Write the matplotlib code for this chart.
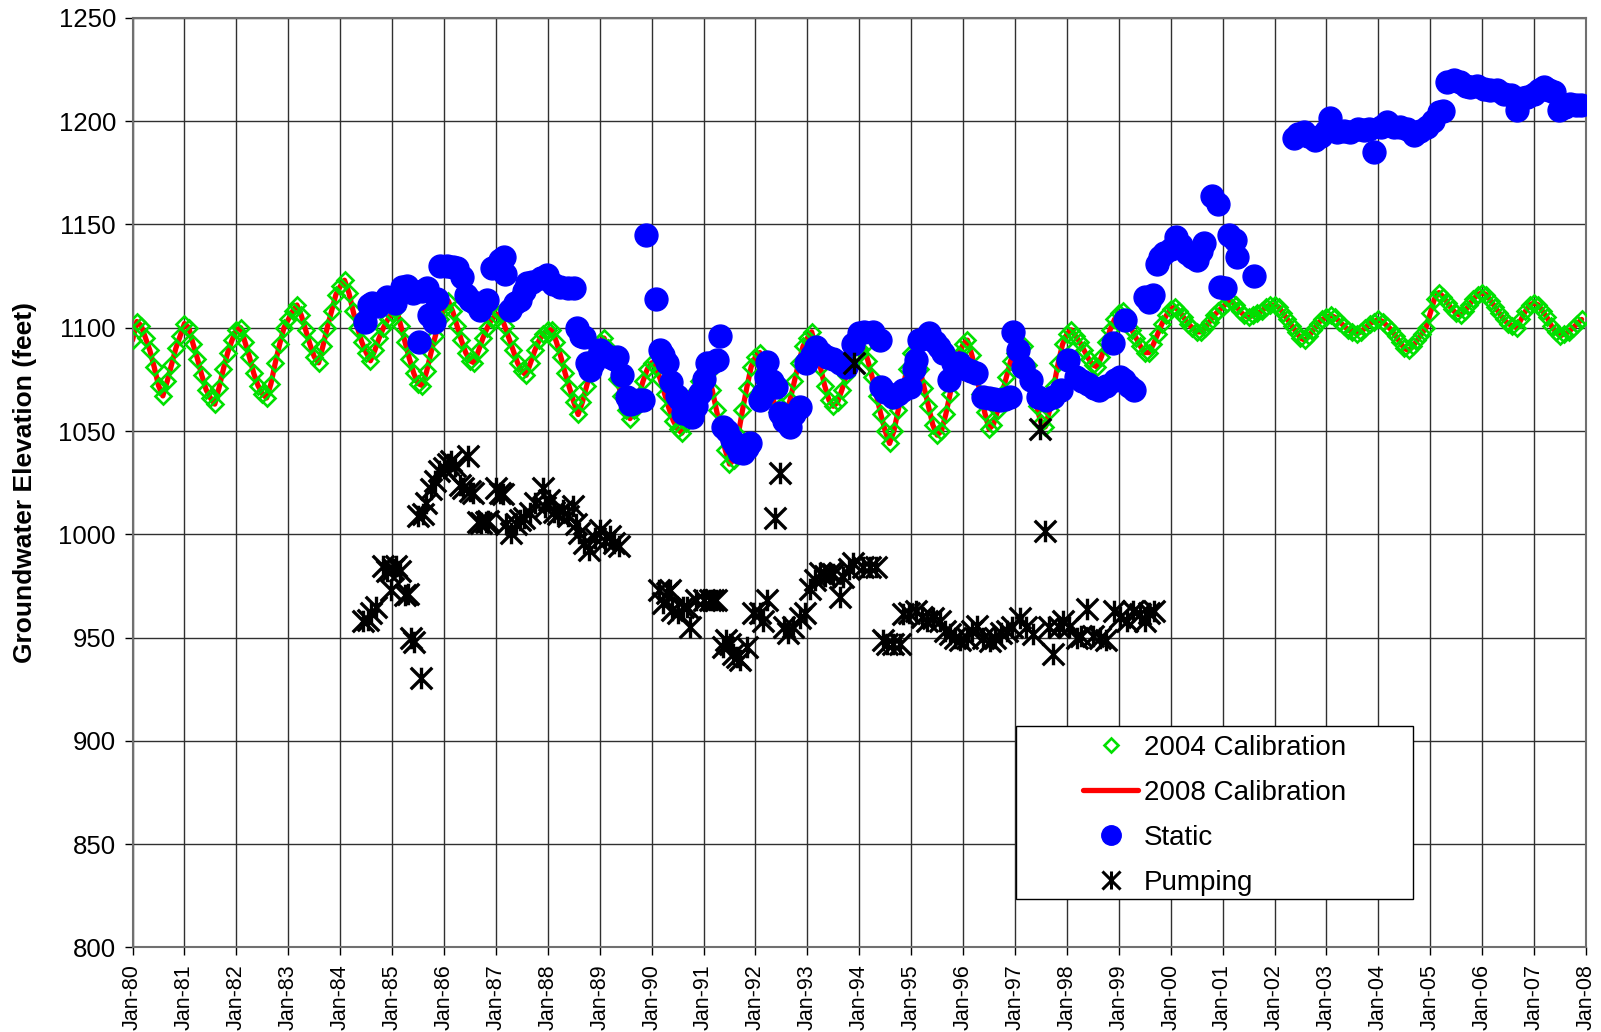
import numpy as np
import matplotlib
matplotlib.use("Agg")
import matplotlib.pyplot as plt
from matplotlib.path import Path
from matplotlib.patches import Rectangle
from matplotlib.lines import Line2D

plt.rcParams['font.family'] = ['Liberation Sans', 'DejaVu Sans']

# --- model calibration, monthly Jan-1980 .. Dec-2007 (one row per year) ---
calib_2004 = [
    1094, 1103, 1101, 1095, 1089, 1081, 1072, 1067, 1074, 1082, 1090, 1096,  # 1980
    1102, 1100, 1092, 1085, 1077, 1070, 1066, 1063, 1071, 1080, 1088, 1094,  # 1981
    1099, 1100, 1093, 1086, 1078, 1072, 1068, 1066, 1073, 1083, 1092, 1100,  # 1982
    1104, 1108, 1111, 1106, 1099, 1092, 1086, 1083, 1091, 1100, 1108, 1116,  # 1983
    1120, 1123, 1117, 1108, 1100, 1093, 1088, 1084, 1089, 1095, 1100, 1104,  # 1984
    1107, 1109, 1101, 1093, 1085, 1078, 1073, 1072, 1079, 1088, 1096, 1104,  # 1985
    1109, 1113, 1108, 1101, 1094, 1088, 1084, 1083, 1089, 1095, 1100, 1104,  # 1986
    1106, 1107, 1101, 1095, 1089, 1083, 1079, 1077, 1083, 1089, 1094, 1097,  # 1987
    1099, 1099, 1093, 1086, 1078, 1071, 1064, 1058, 1064, 1072, 1080, 1088,  # 1988
    1093, 1095, 1090, 1083, 1075, 1067, 1060, 1056, 1060, 1067, 1074, 1080,  # 1989
    1083, 1081, 1075, 1068, 1061, 1055, 1051, 1049, 1054, 1062, 1069, 1074,  # 1990
    1077, 1078, 1070, 1060, 1050, 1041, 1034, 1036, 1048, 1060, 1071, 1081,  # 1991
    1086, 1088, 1082, 1074, 1066, 1059, 1055, 1057, 1065, 1074, 1083, 1091,  # 1992
    1095, 1098, 1090, 1081, 1072, 1065, 1062, 1064, 1070, 1077, 1083, 1088,  # 1993
    1090, 1091, 1084, 1076, 1067, 1058, 1050, 1044, 1050, 1060, 1070, 1080,  # 1994
    1088, 1088, 1080, 1071, 1062, 1053, 1048, 1050, 1058, 1068, 1078, 1087,  # 1995
    1092, 1094, 1087, 1078, 1068, 1059, 1051, 1053, 1060, 1068, 1076, 1084,  # 1996
    1088, 1090, 1091, 1082, 1072, 1062, 1054, 1052, 1060, 1072, 1083, 1092,  # 1997
    1097, 1099, 1096, 1093, 1089, 1085, 1082, 1081, 1086, 1093, 1099, 1104,  # 1998
    1107, 1108, 1104, 1099, 1095, 1091, 1088, 1088, 1092, 1097, 1102, 1106,  # 1999
    1109, 1110, 1108, 1105, 1102, 1100, 1098, 1098, 1100, 1103, 1106, 1108,  # 2000
    1110, 1112, 1113, 1111, 1108, 1106, 1105, 1106, 1107, 1108, 1110, 1111,  # 2001
    1111, 1110, 1107, 1104, 1101, 1098, 1095, 1094, 1096, 1099, 1102, 1104,  # 2002
    1105, 1106, 1105, 1103, 1101, 1099, 1098, 1097, 1098, 1100, 1102, 1103,  # 2003
    1104, 1103, 1101, 1099, 1096, 1093, 1090, 1089, 1091, 1094, 1097, 1100,  # 2004
    1107, 1114, 1117, 1115, 1112, 1109, 1107, 1106, 1108, 1111, 1114, 1116,  # 2005
    1117, 1116, 1113, 1110, 1107, 1104, 1102, 1101, 1100, 1104, 1108, 1111,  # 2006
    1112, 1111, 1108, 1105, 1101, 1098, 1096, 1097, 1098, 1100, 1102, 1104,  # 2007
]
# 2008 recalibration runs on top of the 2004 one
calib_2008 = list(calib_2004)

# --- observed static levels (decimal year, feet) ---
static_t = [
    1984.47, 1984.55, 1984.61, 1984.72, 1984.90, 1985.06, 1985.20, 1985.29, 1985.40, 1985.51,
    1985.58, 1985.67, 1985.72, 1985.80, 1985.87, 1985.93, 1986.05, 1986.17, 1986.25, 1986.35,
    1986.43, 1986.51, 1986.60, 1986.70, 1986.83, 1986.93, 1986.99, 1987.08, 1987.15, 1987.18,
    1987.28, 1987.36, 1987.47, 1987.55, 1987.60, 1987.70, 1987.86, 1987.99, 1988.10, 1988.24,
    1988.38, 1988.50, 1988.56, 1988.63, 1988.69, 1988.75, 1988.81, 1988.88, 1989.00, 1989.07,
    1989.20, 1989.27, 1989.33, 1989.42, 1989.52, 1989.58, 1989.65, 1989.75, 1989.84, 1989.90,
    1990.08, 1990.16, 1990.22, 1990.29, 1990.38, 1990.48, 1990.54, 1990.61, 1990.70, 1990.77,
    1990.85, 1990.93, 1991.00, 1991.06, 1991.15, 1991.25, 1991.31, 1991.38, 1991.45, 1991.54,
    1991.60, 1991.68, 1991.76, 1991.84, 1991.89, 1992.08, 1992.15, 1992.21, 1992.23, 1992.32,
    1992.40, 1992.47, 1992.55, 1992.66, 1992.75, 1992.85, 1992.98, 1993.08, 1993.17, 1993.27,
    1993.37, 1993.50, 1993.62, 1993.75, 1993.88, 1994.00, 1994.10, 1994.26, 1994.39, 1994.41,
    1994.50, 1994.65, 1994.75, 1994.85, 1994.97, 1995.05, 1995.10, 1995.16, 1995.28, 1995.35,
    1995.45, 1995.54, 1995.62, 1995.73, 1995.80, 1995.92, 1996.05, 1996.15, 1996.25, 1996.38,
    1996.50, 1996.60, 1996.71, 1996.80, 1996.90, 1996.96, 1997.05, 1997.15, 1997.30, 1997.44,
    1997.59, 1997.74, 1997.88, 1998.03, 1998.18, 1998.30, 1998.40, 1998.52, 1998.62, 1998.75,
    1998.88, 1998.92, 1999.02, 1999.10, 1999.12, 1999.20, 1999.29,
    1999.51, 1999.58, 1999.65, 1999.73, 1999.80, 1999.88, 2000.00, 2000.10, 2000.20, 2000.32,
    2000.42, 2000.50, 2000.58, 2000.65, 2000.80, 2000.91, 2000.95, 2001.05, 2001.13, 2001.24,
    2001.28, 2001.61,
    2002.37, 2002.45, 2002.56, 2002.65, 2002.78, 2002.90, 2003.00, 2003.07, 2003.20, 2003.33,
    2003.46, 2003.60, 2003.72, 2003.82, 2003.91, 2004.05, 2004.17, 2004.30, 2004.42, 2004.55,
    2004.68, 2004.80, 2004.94, 2005.05, 2005.16, 2005.25, 2005.32, 2005.45, 2005.58, 2005.68,
    2005.77, 2005.90, 2006.03, 2006.16, 2006.29, 2006.42, 2006.55, 2006.68, 2006.78, 2006.87,
    2007.00, 2007.10, 2007.19, 2007.28, 2007.38, 2007.48, 2007.60, 2007.70, 2007.80, 2007.90,
]
static_v = [
    1102.6, 1111.0, 1112.0, 1110.5, 1115.0, 1112.0, 1119.5, 1120.0, 1117.0, 1093.0,
    1118.0, 1119.0, 1106.0, 1103.0, 1114.0, 1130.0, 1130.0, 1129.5, 1128.7, 1124.7,
    1116.0, 1113.4, 1112.0, 1108.5, 1113.4, 1129.0, 1129.5, 1133.0, 1134.0, 1126.0,
    1108.5, 1112.0, 1113.4, 1118.0, 1121.5, 1122.0, 1123.9, 1125.5, 1121.0, 1119.8,
    1119.0, 1119.0, 1099.7, 1096.0, 1095.6, 1083.0, 1079.5, 1082.7, 1089.0, 1087.6,
    1086.0, 1085.0, 1086.0, 1077.0, 1066.6, 1063.0, 1063.4, 1065.0, 1065.0, 1144.8,
    1113.9, 1089.0, 1087.0, 1082.7, 1073.9, 1067.0, 1065.0, 1058.5, 1058.0, 1057.0,
    1062.0, 1068.2, 1075.0, 1082.7, 1083.0, 1084.4, 1096.0, 1052.0, 1050.0, 1045.6,
    1043.0, 1040.0, 1039.2, 1042.0, 1044.0, 1065.0, 1068.0, 1076.3, 1083.5, 1074.0,
    1071.5, 1058.5, 1055.0, 1052.0, 1058.0, 1061.8, 1082.7, 1087.0, 1090.8, 1088.0,
    1086.0, 1085.0, 1083.0, 1081.0, 1092.0, 1097.3, 1098.0, 1098.0, 1094.0, 1071.5,
    1069.0, 1066.6, 1068.0, 1070.0, 1071.5, 1080.0, 1084.4, 1094.0, 1095.0, 1097.3,
    1093.0, 1090.8, 1088.0, 1074.7, 1083.0, 1082.7, 1080.0, 1079.0, 1078.0, 1066.6,
    1066.0, 1065.5, 1065.0, 1065.5, 1066.6, 1098.0, 1089.0, 1081.0, 1074.7, 1066.6,
    1065.0, 1066.6, 1069.8, 1084.4, 1076.3, 1074.0, 1073.0, 1071.0, 1069.8, 1072.0,
    1092.4, 1074.7, 1076.0, 1074.7, 1103.7, 1072.0, 1069.8,
    1115.0, 1112.6, 1116.0, 1131.0, 1134.0, 1136.0, 1138.0, 1144.0, 1140.0, 1136.0,
    1134.0, 1132.7, 1137.0, 1140.8, 1164.0, 1160.0, 1119.8, 1119.0, 1144.8, 1142.4,
    1134.4, 1125.0,
    1191.6, 1194.0, 1194.8, 1193.0, 1190.8, 1193.0, 1195.0, 1201.3, 1194.8, 1195.0,
    1194.8, 1196.0, 1195.6, 1196.0, 1185.2, 1197.0, 1199.7, 1197.0, 1197.3, 1196.0,
    1193.2, 1195.0, 1197.3, 1200.0, 1204.5, 1205.0, 1219.0, 1220.0, 1219.0, 1217.0,
    1216.6, 1217.0, 1215.8, 1215.0, 1215.0, 1213.0, 1212.6, 1205.3, 1211.0, 1211.8,
    1213.0, 1215.0, 1216.6, 1215.0, 1214.2, 1205.3, 1207.0, 1208.5, 1208.0, 1207.7,
]

# --- observed pumping levels (decimal year, feet) ---
pump_t = [
    1984.44, 1984.53, 1984.60, 1984.69, 1984.82, 1984.90, 1984.98, 1985.02, 1985.08, 1985.16,
    1985.24, 1985.30, 1985.37, 1985.42, 1985.50, 1985.56, 1985.60, 1985.66, 1985.75, 1985.83,
    1985.91, 1986.00, 1986.07, 1986.14, 1986.22, 1986.30, 1986.36, 1986.46, 1986.50, 1986.56,
    1986.65, 1986.72, 1986.80, 1986.85, 1987.00, 1987.07, 1987.13, 1987.20, 1987.29, 1987.38,
    1987.46, 1987.55, 1987.65, 1987.75, 1987.90, 1987.95, 1988.03, 1988.12, 1988.20, 1988.29,
    1988.38, 1988.48, 1988.55, 1988.61, 1988.70, 1988.80, 1988.90, 1989.00, 1989.10, 1989.19,
    1989.28, 1989.38,
    1990.15, 1990.22, 1990.29, 1990.35, 1990.39, 1990.50, 1990.60, 1990.68, 1990.74, 1990.86,
    1991.00, 1991.12, 1991.19, 1991.24, 1991.38, 1991.44, 1991.51, 1991.57, 1991.64, 1991.70,
    1991.83, 1991.96, 1992.09, 1992.15, 1992.22, 1992.38, 1992.47, 1992.55, 1992.63, 1992.73,
    1992.86, 1992.96, 1993.05, 1993.15, 1993.24, 1993.34, 1993.44, 1993.50, 1993.63, 1993.69,
    1993.80, 1993.88, 1993.89, 1994.08, 1994.20, 1994.33,
    1994.46, 1994.53, 1994.65, 1994.79, 1994.85, 1994.95, 1995.10, 1995.20, 1995.30, 1995.43,
    1995.55, 1995.65, 1995.75, 1995.85, 1995.95, 1996.07, 1996.18, 1996.26, 1996.38, 1996.52,
    1996.62, 1996.73, 1996.84, 1996.95, 1997.10, 1997.22, 1997.35, 1997.48, 1997.58, 1997.65,
    1997.74, 1997.85, 1997.93, 1998.05, 1998.19, 1998.28, 1998.38, 1998.50, 1998.64, 1998.75,
    1998.90, 1999.02, 1999.15, 1999.28, 1999.41, 1999.50, 1999.58, 1999.67,
]
pump_v = [
    957.8, 958.6, 962.0, 965.0, 984.5, 982.0, 973.0, 983.0, 984.5, 982.0,
    970.7, 971.0, 949.7, 948.0, 1008.7, 930.3, 1010.0, 1015.2, 1021.7, 1026.0,
    1030.6, 1032.0, 1034.0, 1035.4, 1033.0, 1024.0, 1022.5, 1037.9, 1021.0, 1020.0,
    1006.0, 1005.5, 1006.0, 1006.3, 1022.5, 1020.0, 1019.3, 1005.0, 1000.6, 1005.0,
    1007.0, 1008.0, 1010.4, 1015.0, 1022.5, 1013.0, 1016.8, 1011.0, 1010.0, 1012.0,
    1009.0, 1013.6, 1005.0, 1000.6, 996.0, 992.6, 998.0, 1002.3, 997.0, 999.0,
    996.0, 994.2,
    973.1, 966.7, 971.4, 973.1, 963.3, 962.0, 965.0, 964.9, 955.2, 968.3,
    968.1, 968.3, 968.1, 968.3, 945.5, 948.8, 947.1, 942.0, 940.6, 939.0,
    945.5, 961.7, 961.7, 958.0, 968.1, 1007.8, 1029.6, 955.0, 952.0, 955.2,
    959.7, 961.7, 973.5, 978.0, 981.5, 980.0, 981.1, 980.7, 969.5, 979.4,
    983.0, 985.9, 1082.8, 984.3, 984.0, 984.3,
    948.7, 946.8, 947.0, 946.8, 961.3, 962.0, 963.0, 960.0, 958.0, 959.7,
    958.0, 953.0, 951.6, 950.0, 949.0, 950.0, 953.0, 955.7, 950.0, 948.4,
    950.0, 952.0, 953.2, 955.0, 959.7, 955.0, 951.6, 1051.1, 1001.8, 955.0,
    941.9, 955.0, 958.0, 955.0, 950.0, 951.0, 963.8, 951.0, 950.0, 949.0,
    962.9, 960.0, 958.0, 963.0, 961.3, 958.0, 962.0, 962.9,
]

years = list(range(1980, 2009))
year_labels = ["Jan-%02d" % (y % 100) for y in years]
y_ticks = list(range(800, 1251, 50))

# monthly positions for the model output
calib_t = 1980 + np.arange(len(calib_2004)) / 12.0

# Excel-style star: vertical bar plus an X
star = Path([(0, -1), (0, 1), (-1, -1), (1, 1), (-1, 1), (1, -1)],
            [Path.MOVETO, Path.LINETO, Path.MOVETO, Path.LINETO, Path.MOVETO, Path.LINETO])

fig = plt.figure(figsize=(16.01, 10.32), dpi=100)
ax = fig.add_axes([0.0828, 0.0819, 0.9078, 0.9008])

ax.plot(calib_t, calib_2008, color='red', lw=3.8, zorder=2, solid_capstyle='round')
ax.plot(calib_t, calib_2004, ls='none', marker='D', ms=7.8, mfc='none',
        mec='#00e000', mew=1.9, zorder=3)
ax.plot(static_t, static_v, ls='none', marker='o', ms=16.5, color='#0000ff',
        mec='#0000ff', zorder=4)
ax.plot(pump_t, pump_v, ls='none', marker=star, ms=15.5, color='black',
        mew=2.4, zorder=5)

ax.set_xlim(1980, 2008)
ax.set_ylim(800, 1250)
ax.set_xticks(years)
ax.set_xticklabels(year_labels, rotation=90, fontsize=15.5)
ax.set_yticks(y_ticks)
ax.tick_params(axis='y', labelsize=18.5, length=6, width=1, pad=6, direction='out')
ax.tick_params(axis='x', length=6, width=1, pad=6, direction='out')
ax.grid(True, color='#303030', lw=1)
ax.set_axisbelow(True)
for sp in ax.spines.values():
    sp.set_color('#707070')
    sp.set_linewidth(1.5)

ax.set_ylabel('Groundwater Elevation (feet)', fontsize=19, fontweight='bold')
ax.yaxis.set_label_coords(-0.066, 0.5)

# legend box
box_x, box_y, box_w, box_h = 0.6078, 0.0522, 0.2732, 0.186
ax.add_patch(Rectangle((box_x, box_y), box_w, box_h, transform=ax.transAxes,
                       facecolor='white', edgecolor='black', lw=1, zorder=6))
handles = [
    Line2D([], [], ls='none', marker='D', ms=7.5, mfc='none', mec='#00e000', mew=1.9),
    Line2D([], [], color='red', lw=3.8, solid_capstyle='round'),
    Line2D([], [], ls='none', marker='o', ms=14, color='#0000ff'),
    Line2D([], [], ls='none', marker=star, ms=13, color='black', mew=2.2),
]
labels = ['2004 Calibration', '2008 Calibration', 'Static', 'Pumping']
leg = ax.legend(handles, labels, loc='center',
                bbox_to_anchor=(box_x + box_w / 2, box_y + box_h / 2 - 0.003),
                frameon=False, fontsize=20, handlelength=2.0, handletextpad=0.2,
                labelspacing=0.68, borderpad=0.2)
leg.set_zorder(7)

fig.savefig('out.png', dpi=100)
